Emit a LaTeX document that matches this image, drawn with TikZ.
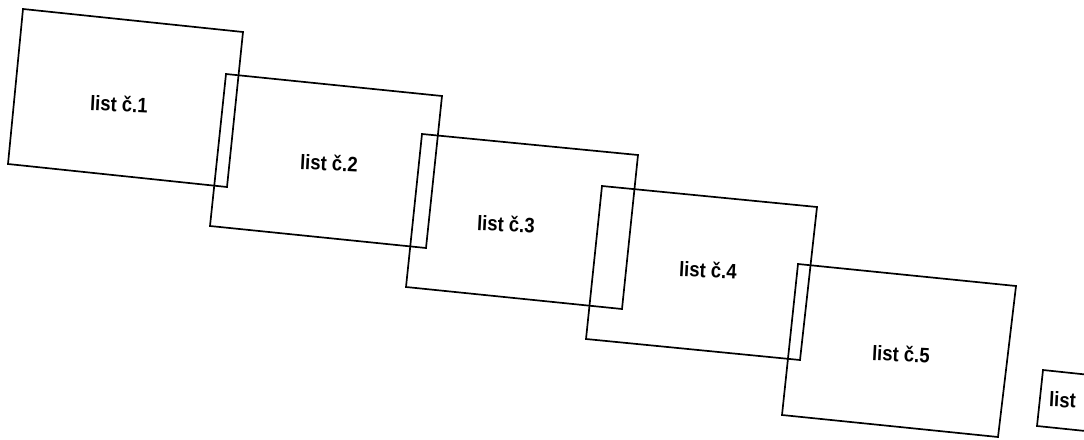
\documentclass[tikz,border=0pt]{standalone}
\usepackage{fontspec}
\setmainfont{Liberation Sans}
\begin{document}
\begin{tikzpicture}[x=1pt,y=-1pt,
  sheet/.style={draw=black,line width=1.7pt,line join=miter},
  label/.style={font=\fontsize{18.5}{20}\selectfont\bfseries,inner sep=0pt,rotate=-3}]
\useasboundingbox (0,0) rectangle (1084,439);
\clip (0,0) rectangle (1084,439);
\draw[sheet] (23,9) -- (243,32) -- (227,187) -- (8,164) -- cycle;
\draw[sheet] (226,74) -- (442,96) -- (426,248) -- (210,226) -- cycle;
\draw[sheet] (422,134) -- (638,155) -- (622,309) -- (406,287) -- cycle;
\draw[sheet] (602,186) -- (817,207) -- (800,360) -- (586,339) -- cycle;
\draw[sheet] (798,264) -- (1016,286) -- (998,437) -- (782,415) -- cycle;
\draw[sheet] (1095,375.5) -- (1043,370) -- (1037,426) -- (1095,432);
\node[label] (l1) at (119,104) {\scalebox{1}[1.13]{list č.1}};
\node[label] (l2) at (329,163) {\scalebox{1}[1.13]{list č.2}};
\node[label] (l3) at (506,224) {\scalebox{1}[1.13]{list č.3}};
\node[label] (l4) at (708,270) {\scalebox{1}[1.13]{list č.4}};
\node[label] (l5) at (901,354) {\scalebox{1}[1.13]{list č.5}};
\node[label,anchor=west] (l6) at (1049,399) {\scalebox{1}[1.13]{list}};
\end{tikzpicture}
\end{document}
